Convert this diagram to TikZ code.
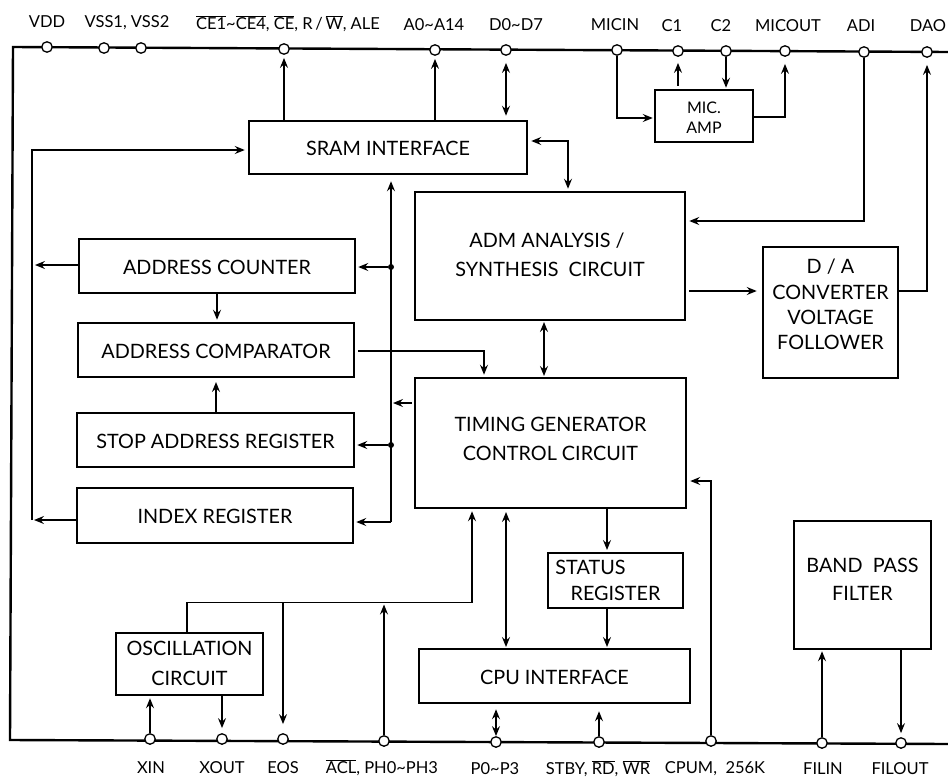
\documentclass[tikz,border=0pt]{standalone}
\usepackage{fontspec}
\setmainfont{Lato}
\usetikzlibrary{arrows.meta,calc}
\newcommand{\ovl}[1]{$\overline{\hbox{#1}}$}
\newcommand{\tl}{\raisebox{0.1ex}{\textasciitilde}}
% name, x1, y1, x2, y2, downward text shift, font size, leading, text
\newcommand{\pbox}[9]{\node[blk,minimum width=#4pt-#2pt,minimum height=#5pt-#3pt] (#1) at ({(#2+#4)/2},{(#3+#5)/2})
  {\fontsize{#7}{#8}\selectfont\raisebox{\dimexpr-#6pt-0.25em-3.5pt\relax}[0pt][0pt]{\begin{tabular}[c]{@{}c@{}}#9\end{tabular}}};}
\tikzset{
  blk/.style={draw=black,line width=2.5pt,inner sep=0pt},
  pin/.style={circle,draw=black,fill=white,line width=1.3pt,minimum size=10.5pt,inner sep=0pt},
  lab/.style={inner sep=0pt,font=\fontsize{16.5}{18}\selectfont},
  bus/.style={line width=2.4pt},
  wire/.style={line width=1.3pt},
  arr/.style={wire,-{Stealth[length=10pt,width=8pt,inset=3.5pt]}},
  darr/.style={wire,{Stealth[length=10pt,width=8pt,inset=3.5pt]}-{Stealth[length=10pt,width=8pt,inset=3.5pt]}},
  dot/.style={circle,fill=black,minimum size=6pt,inner sep=0pt}
}
\begin{document}
\begin{tikzpicture}[x=1pt,y=-1pt]
\useasboundingbox (0,0) rectangle (948,779);
% buses
\coordinate (tl) at (13,47);
\coordinate (tr) at (948,52);
\coordinate (bl) at (10,740);
\coordinate (br) at (948,744);
\draw[bus,line join=miter] (tr) -- (tl) -- (bl) -- (br);
% top pins
\foreach \n/\x/\y in {vdd/47/47,vssa/104/48,vssb/141/48,ce/284/49,adr/435/50,dat/506/50,micin/617/50,ca/678/51,cb/726/51,micout/785/51,adi/864/52,dao/927/52,
 xin/150/739,xout/222/739,eos/283/739,acl/384/741,pp/496/742,stby/599/742,cpum/711/741,filin/822/743,filout/901/743}
  {\node[pin] (\n) at (\x,\y) {};}
% boxes
\pbox{sram}{249}{121}{527}{174}{0}{19.8}{24}{SRAM INTERFACE}
\pbox{amp}{655}{90}{753}{142}{0}{16}{20}{MIC.\\AMP}
\pbox{adm}{415}{192}{685}{320}{-3.5}{19.8}{29}{\hspace*{-6pt}ADM ANALYSIS /\\SYNTHESIS\ \ CIRCUIT}
\pbox{da}{763}{247}{898}{378}{-9}{19.8}{25.3}{D / A\\CONVERTER\\VOLTAGE\\FOLLOWER}
\pbox{tim}{415}{378}{686}{508}{-6.5}{19.8}{29}{TIMING GENERATOR\\CONTROL CIRCUIT}
\pbox{cnt}{79}{239}{355}{293}{0}{19.8}{24}{ADDRESS COUNTER}
\pbox{cmp}{78}{323}{354}{377}{0}{19.8}{24}{ADDRESS COMPARATOR}
\pbox{stp}{77}{413}{354}{467}{0}{19.8}{24}{STOP ADDRESS REGISTER}
\pbox{idx}{77}{488}{353}{543}{0}{19.8}{24}{INDEX REGISTER}
\pbox{osc}{116}{633}{263}{695}{-2.5}{19.8}{30}{OSCILLATION\\CIRCUIT}
\pbox{sts}{548}{553}{683}{608}{-1.5}{19.8}{26}{\hspace*{-50pt}STATUS\\REGISTER}
\pbox{cpu}{419}{649}{690}{703}{0}{19.8}{24}{CPU INTERFACE}
\pbox{bpf}{794}{521}{931}{649}{-7.5}{19.8}{28}{BAND\ \ PASS\\FILTER}
% junction and bend points
\coordinate (busTop) at (391,180);
\node[dot] (dotc) at (391,267) {};
\node[dot] (dots) at (391,445) {};
\coordinate (busBot) at (391,522);
\coordinate (leftTop) at (32,150);
\coordinate (leftCnt) at (32,265);
\coordinate (leftIdx) at (32,520);
\coordinate (timIn) at (484,351);
\coordinate (tapA) at (393,403);
\coordinate (oscUp) at (187,602.5);
\coordinate (oscRt) at (472,602.5);
\coordinate (adiIn) at (864,221);
\coordinate (sramIn) at (568,141);
\coordinate (ampIn) at (617,118);
\coordinate (ampOut) at (785,117);
\coordinate (daOut) at (927,291);
\coordinate (cpumIn) at (711,481);
% top connectors
\draw[arr,shorten >=3pt] (ce |- sram.north) -- (ce);
\draw[arr,shorten >=3pt] (adr |- sram.north) -- (adr);
\draw[darr,shorten <=7pt,shorten >=4pt] (dat) -- (dat |- sram.north);
\draw[arr,shorten >=1pt] (micin) -- (ampIn) -- (amp.west |- ampIn);
\draw[arr,shorten <=3pt,shorten >=6pt] (ca |- amp.north) -- (ca);
\draw[arr,shorten >=1pt] (cb) -- (cb |- amp.north);
\draw[arr,shorten >=7pt] (amp.east |- ampOut) -- (ampOut) -- (micout);
\draw[arr,shorten >=3pt] (adi) -- (adiIn) -- (adm.east |- adiIn);
\draw[darr,shorten <=3pt,shorten >=2pt] (sram.east |- sramIn) -- (sramIn) -- (sramIn |- adm.north);
\draw[arr,line width=1.6pt,shorten <=3pt,shorten >=5pt] (adm.east |- daOut) -- (da.west |- daOut);
\draw[arr,shorten >=7pt] (da.east |- daOut) -- (daOut) -- (dao);
\draw[darr,shorten <=2pt,shorten >=2pt] (544,320) -- (544,378);
% left column
\draw[arr,shorten >=3pt] (leftIdx) -- (leftTop) -- (sram.west |- leftTop);
\draw[arr,shorten >=3pt] (cnt.west |- leftCnt) -- (leftCnt);
\draw[arr,shorten >=2pt] (idx.west |- leftIdx) -- (leftIdx);
\draw[arr,shorten >=6pt] (busBot) -- (busTop |- sram.south);
\draw[arr,shorten >=2pt] (dotc) -- (dotc -| cnt.east);
\draw[arr,shorten >=2pt] (dots) -- (dots -| stp.east);
\draw[arr,shorten >=2pt] (busBot) -- (busBot -| idx.east);
\draw[arr,shorten >=2pt] (cnt.south) -- (cnt.south |- cmp.north);
\draw[arr,shorten >=5pt] (216,413) -- (216,377);
\draw[arr,shorten <=3pt,shorten >=2pt] (cmp.east |- timIn) -- (timIn) -- (timIn |- tim.north);
\draw[arr] (tim.west |- tapA) ++(-2,0) -- (tapA);
% bottom connectors
\draw[wire] (osc.north -| oscUp) -- (oscUp) -- (oscRt);
\draw[arr,shorten >=2pt] (oscRt) -- (oscRt |- tim.south);
\draw[arr,shorten >=9pt] (eos |- oscUp) -- (eos);
\draw[arr,shorten >=2pt] (acl) -- (acl |- oscUp);
\draw[arr,shorten >=2pt] (xin) -- (xin |- osc.south);
\draw[arr,shorten >=5pt] (xout |- osc.south) -- (xout);
\draw[darr,shorten <=4pt,shorten >=2pt] (506,508) -- (506,649);
\draw[arr,shorten >=3pt] (607,508) -- (607,553);
\draw[arr,shorten >=2pt] (607,608) -- (607,649);
\draw[darr,shorten <=5pt] (pp |- cpu.south) -- (pp);
\draw[arr,shorten >=7pt] (stby) -- (stby |- cpu.south);
\draw[arr,shorten >=3pt] (cpum) -- (cpumIn) -- (tim.east |- cpumIn);
\draw[arr,shorten >=1pt] (filin) -- (filin |- bpf.south);
\draw[arr,shorten >=4pt] (filout |- bpf.south) -- (filout);
% labels
\node[lab] (lvdd) at (47,22) {VDD};
\node[lab] (lvss) at (127,23) {VSS1, VSS2};
\node[lab] (lce) at (288,24) {\ovl{CE1}\tl\ovl{CE4},\ \ovl{CE}, R\,/\,\ovl{W}, ALE};
\node[lab] (ladr) at (434,25) {A0\tl A14};
\node[lab] (ldat) at (516,25) {D0\tl D7};
\node[lab] (lmicin) at (615,25) {MICIN};
\node[lab] (lca) at (672,26) {C1};
\node[lab] (lcb) at (721,26) {C2};
\node[lab] (lmicout) at (788,26) {MICOUT};
\node[lab] (ladi) at (861,26) {ADI};
\node[lab] (ldao) at (928,26) {DAO};
\node[lab] (lxin) at (151,768) {XIN};
\node[lab] (lxout) at (222,768) {XOUT};
\node[lab] (leos) at (283,768) {EOS};
\node[lab] (lacl) at (382,768) {\ovl{ACL},\ PH0\tl PH3};
\node[lab] (lpp) at (495,769) {P0\tl P3};
\node[lab] (lstby) at (598,769) {STBY, \ovl{RD},\ \ovl{WR}};
\node[lab] (lcpum) at (715,769) {CPUM,\ \ 256K};
\node[lab] (lfilin) at (823,769) {FILIN};
\node[lab] (lfilout) at (900,769) {FILOUT};
\end{tikzpicture}
\end{document}
